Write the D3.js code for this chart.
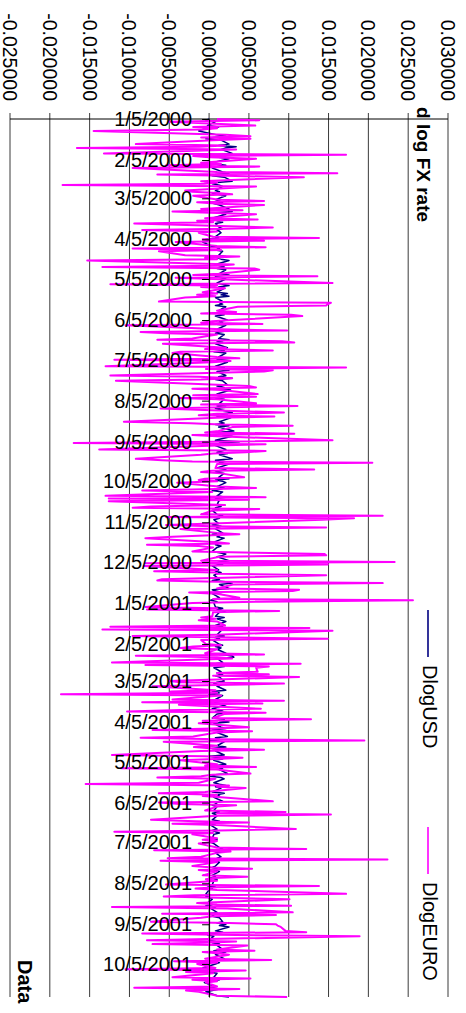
<!DOCTYPE html>
<html>
<head>
<meta charset="utf-8">
<script src="https://cdn.jsdelivr.net/npm/d3@7"></script>
<style>
  html, body { margin: 0; padding: 0; background: #fff; }
  svg { display: block; font-family: "Liberation Sans", Arial, sans-serif; }
</style>
</head>
<body>
<svg id="chart" width="466" height="1013"></svg>
<script>
// Value axis ticks (daily change of log exchange rate)
const valueTicks = [-0.025, -0.02, -0.015, -0.01, -0.005, 0, 0.005, 0.01, 0.015, 0.02, 0.025, 0.03];

// Trading-day calendar covered by the series
const firstDay = "2000-01-05";
const lastDay = "2001-10-30";

// Series names (legend order)
const seriesNames = ["DlogUSD", "DlogEURO"];

// d log USD rate, one value per trading day
const dlogUSD = [
  .0000, -.0004, .0008, -.0002, .0012, .0004, -.0008, -.0013, .0010, .0021, .0006, -.0004, .0015, .0025, .0012, .0034, .0020, .0015, .0029, .0010, .0004, .0012, .0025, .0004, .0008, .0021, .0010, .0004, .0017, .0025, .0008, .0004, .0019, .0029, .0010, .0004, .0013, .0017, .0008, .0013, .0004, .0010, .0021, .0008, .0013, .0017, .0006,
  .0013, .0025, .0008, .0029, .0012, .0021, .0004, .0025, .0010, .0017, .0008, .0013, .0017, .0010, .0013, .0015, .0008, .0012, -.0004, .0004, -.0008, .0002, .0010, .0013, .0008, .0017, .0012, .0021, .0010, .0015, .0025, .0008, .0013, .0019, .0010, .0021, .0013, .0025, .0008, .0015, .0021, .0010, .0017, .0025, .0012, .0019, .0010, .0023, .0015, .0025, .0008, .0017, .0013,
  .0017, .0008, .0021, .0012, .0025, .0010, .0019, .0008, .0023, .0013, .0017, .0006, .0021, .0010, .0025, .0013, .0008, .0019, .0012, .0025, .0010, .0017, .0008, .0023, .0013, .0019, .0006, .0021, .0012, .0027, .0010, .0015, .0023, .0008, .0019, .0013, .0025, .0010, .0021, .0012, .0029, .0008, .0017, .0023, .0010, .0019, .0013, .0027, .0010, .0021, .0015, .0008, .0019,
  .0013, .0025, .0010, .0021, .0008, .0029, .0015, .0023, .0010, .0027, .0013, .0019, .0008, .0025, .0012, .0031, .0010, .0021, .0017, .0029, .0008, .0038, .0013, .0025, .0008, .0021, .0017, .0010, .0023, .0013, .0029, .0008, .0019, .0013, .0025, .0010, .0021, .0015, .0008, .0019, .0012, .0025, .0008, .0017, .0021, .0010, .0019, .0013, .0004, .0017, .0010, .0021, .0008, .0015, .0012,
  .0010, .0015, .0008, .0013, .0004, .0010, .0017, .0008, .0013, .0006, .0012, .0004, .0015, .0010, .0008, .0017, .0004, .0013, .0010, .0019, .0006, .0012, .0008, .0015, .0010, .0004, .0013, .0021, .0017, .0010, .0025, .0013, .0008, .0017, .0004, .0012, .0008, .0015, .0010, .0006, .0013, .0004, .0021, .0029, .0013, .0025, .0004, .0008, .0017, .0004, .0013, .0008, .0002, .0010, .0006,
  .0008, .0017, .0010, .0021, .0013, .0008, .0019, .0010, .0015, .0021, .0008, .0017, .0013, .0006, .0015, .0010, .0019, .0008, .0013, .0004, .0012, .0017, .0008, .0015, .0010, .0021, .0013, .0029, .0031, .0010, .0017, .0008, .0013, .0019, .0006, .0015, .0010, .0017, .0008, .0013, .0019, .0010, .0006, .0015, .0010, .0021, .0004, .0013, .0000, .0017, .0008, .0013, .0004,
  .0013, .0021, .0004, .0017, .0008, .0023, .0010, .0004, .0019, .0013, .0025, .0006, .0015, .0021, .0004, .0017, .0010, .0023, .0008, .0013, .0002, .0019, .0010, .0021, .0004, .0015, .0008, .0019, .0000, .0013, .0017, .0006, .0021, .0010, .0004, .0017, .0013, .0023, .0008, .0002, .0015, .0019, .0006, .0013, .0021, .0008, .0015, .0004, .0019, .0010, .0013, .0006, .0017, .0010,
  .0008, .0004, .0010, .0006, .0013, .0004, .0008, .0010, .0004, .0013, .0006, .0008, .0002, .0010, .0004, .0008, .0013, .0006, .0004, .0010, .0008, .0002, .0006, .0013, .0017, .0010, .0019, .0008, .0015, .0010, .0017, .0006, .0013, .0008, .0004, .0010, .0006, .0013, .0004, .0008, .0002, .0010, .0006, .0004, .0008, -.0002, .0004, .0000, -.0004, .0002, -.0004, .0000, .0004, -.0002,
  .0004, -.0004, .0008, .0002, .0010, -.0002, .0006, .0004, .0013, .0017, .0010, .0021, .0013, .0025, .0008, .0017, .0004, -.0002, .0006, .0000, .0008, .0004, .0013, .0010, .0017, .0006, .0021, .0013, .0008, .0019, .0010, .0004, .0013, .0008, -.0008, .0004, .0013, -.0004, .0010, .0006, .0002, .0013, .0004, -.0006, .0008, .0002, .0013, .0004, -.0004, .0010, .0025
];

// d log EURO rate, one value per trading day
const dlogEURO = [
  .0010, .0063, -.0050, .0058, -.0020, .0010, -.0008, -.0145, .0021, .0052, -.0010, .0052, .0005, -.0092, .0020, -.0012, -.0166, .0034, -.0132, .0172, -.0020, .0000, .0059, -.0010, .0015, -.0054, .0063, -.0096, .0010, .0161, -.0065, .0020, .0119, -.0010, .0010, -.0006, -.0184, .0059, -.0030, -.0021, .0010, .0029, -.0020, .0012, .0069, -.0015, .0008,
  .0069, -.0010, .0042, -.0046, .0010, .0059, -.0005, .0061, -.0015, .0005, -.0094, .0080, .0021, -.0084, .0010, -.0013, .0005, .0138, -.0008, .0069, -.0042, .0010, .0071, -.0096, .0015, -.0063, -.0030, .0038, -.0005, .0010, -.0153, .0031, .0010, -.0134, .0057, .0063, .0012, -.0020, .0136, -.0042, .0005, .0155, -.0124, .0010, -.0010, .0020, -.0008, .0010, -.0015, .0008, -.0030, -.0063, .0153,
  .0149, .0147, .0036, .0010, .0034, -.0010, .0103, .0117, .0029, .0004, -.0010, .0067, -.0105, .0015, .0098, -.0086, -.0054, .0010, -.0021, -.0065, .0092, .0107, -.0058, .0021, -.0005, .0080, -.0036, -.0046, .0010, .0038, -.0119, .0027, .0004, -.0130, .0172, -.0004, .0080, .0069, -.0124, -.0013, .0029, -.0010, -.0117, .0010, .0050, .0059, -.0021, .0015, .0061, -.0020, .0059, -.0038, .0010,
  .0059, -.0010, .0111, .0020, -.0061, .0094, .0010, -.0013, .0082, .0010, -.0107, -.0023, .0015, .0105, .0029, .0012, -.0005, .0107, -.0021, .0010, .0155, .0005, -.0170, .0071, .0010, -.0138, .0071, .0046, .0005, -.0010, -.0092, -.0059, -.0021, .0205, .0010, .0008, .0132, .0004, -.0010, .0015, .0044, -.0005, -.0013, .0010, -.0040, .0012, .0059, -.0005, -.0084, .0004, -.0130, .0071, -.0126, .0050, -.0126,
  .0020, -.0073, -.0096, .0063, .0005, -.0010, .0218, -.0054, .0182, .0142, .0004, -.0054, .0004, .0147, -.0036, .0010, .0038, -.0005, -.0046, -.0080, .0010, .0025, -.0078, -.0013, .0005, -.0021, .0059, .0145, .0147, .0013, -.0010, .0233, -.0080, .0149, -.0082, .0010, -.0069, .0008, .0010, .0147, -.0059, -.0065, .0010, .0218, .0030, .0010, .0113, .0105, -.0025, .0010, .0038, .0005, .0256, .0063, -.0021,
  -.0080, .0010, -.0078, .0088, .0005, .0004, -.0010, .0008, -.0013, .0010, .0020, -.0124, .0126, -.0134, .0155, .0010, -.0096, .0005, .0149, -.0010, -.0004, .0015, -.0020, -.0036, .0010, -.0005, .0069, -.0092, .0010, .0029, -.0122, .0115, -.0080, .0075, .0059, .0061, .0010, .0075, .0005, .0113, -.0050, -.0036, .0094, .0010, -.0071, .0008, -.0048, .0010, -.0186, .0015, -.0046, .0094, -.0084,
  .0067, -.0038, .0065, -.0036, -.0103, .0071, .0019, .0005, .0128, -.0008, .0010, -.0013, .0050, .0005, -.0071, .0054, .0010, -.0020, -.0086, .0010, .0195, -.0057, .0010, -.0019, .0005, .0069, -.0010, -.0122, -.0006, .0042, .0008, -.0036, .0010, -.0005, .0059, -.0111, .0010, .0052, .0004, -.0010, -.0065, .0008, -.0013, -.0155, .0025, .0010, .0046, -.0005, -.0063, .0010, -.0008, .0015, .0080, -.0063,
  -.0036, .0034, .0010, -.0005, .0096, .0010, .0153, .0010, -.0073, -.0017, .0050, -.0046, .0010, .0109, .0013, -.0119, .0005, -.0021, .0010, -.0008, .0010, .0004, -.0013, .0010, .0122, -.0069, .0027, .0010, -.0010, -.0052, .0224, -.0061, .0010, -.0021, .0005, .0054, -.0013, .0010, -.0008, .0048, .0005, -.0004, .0010, -.0054, .0138, .0010, -.0017, .0010, .0172, -.0019, -.0057, .0010, .0101, -.0015,
  .0010, .0103, -.0122, .0023, .0105, -.0059, .0084, .0005, -.0010, -.0073, .0025, .0084, .0086, .0090, .0096, .0122, -.0084, .0010, .0189, -.0078, .0034, -.0005, -.0071, .0048, .0010, .0057, -.0008, .0010, .0025, -.0005, .0078, -.0044, .0010, -.0015, .0008, -.0105, .0046, -.0029, .0005, -.0046, .0052, -.0021, .0010, -.0004, .0010, -.0094, .0038, -.0029, -.0013, .0010, .0098
];

const W = 466, H = 1013;
const plotTop = 119, plotBottom = 997, plotLeft = 10, plotRight = 448;

const svg = d3.select("#chart");
svg.append("rect").attr("width", W).attr("height", H).attr("fill", "#fff");

const parseDay = d3.utcParse("%Y-%m-%d");
const start = parseDay(firstDay), end = parseDay(lastDay);

// Weekdays between the first and last day
const tradingDays = d3.utcDay.range(start, d3.utcDay.offset(end, 1))
  .filter(d => d.getUTCDay() !== 0 && d.getUTCDay() !== 6);

// Value runs horizontally, time runs downward
const x = d3.scaleLinear().domain([-0.025, 0.03]).range([plotLeft, plotRight]);
const y = d3.scaleUtc().domain([start, end]).range([plotTop, plotBottom]);

const fmtValue = d3.formatLocale({ decimal: ".", thousands: ",", grouping: [3], currency: ["$", ""], minus: "-" }).format(".6f");
const fmtDate = d3.utcFormat("%-m/%-d/%Y");

// Vertical gridlines, extended above the axis line as tick marks
svg.append("g").selectAll("line").data(valueTicks).join("line")
  .attr("x1", d => x(d)).attr("x2", d => x(d))
  .attr("y1", plotTop - 6).attr("y2", plotBottom)
  .attr("stroke", "#3a3a3a").attr("stroke-width", 1);

// Value axis line
svg.append("line")
  .attr("x1", plotLeft).attr("x2", plotRight)
  .attr("y1", plotTop).attr("y2", plotTop)
  .attr("stroke", "#000").attr("stroke-width", 1);

// Value labels, rotated
svg.append("g").selectAll("text").data(valueTicks).join("text")
  .attr("transform", d => `translate(${x(d)},101) rotate(90)`)
  .attr("text-anchor", "end")
  .attr("dy", "0.36em")
  .attr("font-size", 19.5)
  .attr("fill", "#000")
  .text(d => fmtValue(d));

// Series
const rowsUSD = tradingDays.map((d, i) => ({ date: d, v: dlogUSD[i] })).filter(r => r.v !== undefined);
const rowsEURO = tradingDays.map((d, i) => ({ date: d, v: dlogEURO[i] })).filter(r => r.v !== undefined);
const line = d3.line().x(r => x(r.v)).y(r => y(r.date));

svg.append("path").datum(rowsUSD)
  .attr("d", line).attr("fill", "none")
  .attr("stroke", "#000080").attr("stroke-width", 1.5).attr("stroke-linejoin", "round");

svg.append("path").datum(rowsEURO)
  .attr("d", line).attr("fill", "none")
  .attr("stroke", "#ff00ff").attr("stroke-width", 2).attr("stroke-linejoin", "round");

// Date axis on the zero line, monthly ticks on the 5th
const monthTicks = d3.utcMonth.range(d3.utcMonth.floor(start), end).map(m => d3.utcDay.offset(m, 4))
  .filter(d => d >= start && d <= end);

const dateAxis = svg.append("g")
  .attr("transform", `translate(${x(0)},0)`)
  .call(d3.axisLeft(y).tickValues(monthTicks).tickFormat(fmtDate)
    .tickSize(7).tickSizeOuter(0).tickPadding(10));
dateAxis.select(".domain").attr("stroke", "#000").attr("stroke-width", 1);
dateAxis.selectAll(".tick line").attr("stroke", "#000");
dateAxis.selectAll("text")
  .attr("font-size", 20)
  .attr("font-family", "'Liberation Sans', Arial, sans-serif")
  .attr("fill", "#000");

// Axis titles
svg.append("text")
  .attr("transform", "translate(417,107) rotate(90)")
  .attr("font-size", 19).attr("font-weight", "bold").attr("fill", "#000")
  .text("d log FX rate");

svg.append("text")
  .attr("transform", "translate(18,960) rotate(90)")
  .attr("font-size", 20).attr("font-weight", "bold").attr("fill", "#000")
  .text("Data");

// Legend
const legendColors = ["#000080", "#ff00ff"];
const legendY = [610, 827];
const legend = svg.append("g");
seriesNames.forEach((name, i) => {
  legend.append("line")
    .attr("x1", 428).attr("x2", 428)
    .attr("y1", legendY[i]).attr("y2", legendY[i] + 47)
    .attr("stroke", legendColors[i]).attr("stroke-width", 1.6);
  legend.append("text")
    .attr("transform", `translate(423,${legendY[i] + 55}) rotate(90)`)
    .attr("font-size", 20).attr("fill", "#000")
    .text(name);
});
</script>
</body>
</html>
